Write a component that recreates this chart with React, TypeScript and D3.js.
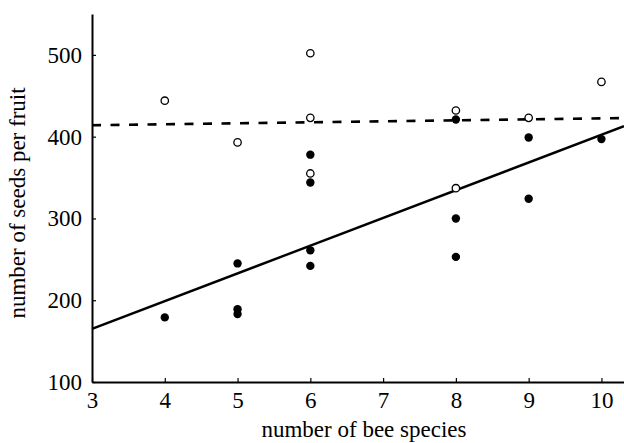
import React, { useRef, useEffect } from 'react';
import * as d3 from 'd3';

// bee species richness vs seeds per fruit
const openX = [4, 5, 6, 6, 6, 8, 8, 9, 10];
const openY = [444, 393, 502, 423, 355, 432, 337, 423, 467];

const filledX = [4, 5, 5, 5, 6, 6, 6, 6, 8, 8, 8, 9, 9, 10];
const filledY = [179, 245, 189, 183, 378, 344, 261, 242, 421, 300, 253, 399, 324, 397];

// fitted lines: [intercept, slope]
const solidFit = [63.3, 33.9];
const dashedFit = [410.4, 1.2];

const xTicks = [3, 4, 5, 6, 7, 8, 9, 10];
const yTicks = [100, 200, 300, 400, 500];

const App = () => {
  const ref = useRef<SVGSVGElement>(null);

  useEffect(() => {
    const svg = d3.select(ref.current);
    svg.selectAll('*').remove();

    const width = 624;
    const height = 443;
    const margin = { top: 14, right: 0, bottom: 61, left: 92 };
    const font = '"Liberation Serif", "Times New Roman", serif';

    const x = d3.scaleLinear()
      .domain([3, 10.31])
      .range([margin.left, width - margin.right]);

    const y = d3.scaleLinear()
      .domain([100, 550])
      .range([height - margin.bottom, margin.top]);

    // axes with inward ticks
    const xAxis = svg.append('g')
      .attr('transform', `translate(0,${y(100)})`)
      .call(d3.axisBottom(x).tickValues(xTicks).tickSize(-4).tickSizeOuter(0).tickPadding(10));
    xAxis.select('.domain').attr('stroke-width', 2);
    xAxis.selectAll('.tick line').attr('stroke-width', 1.2);
    xAxis.selectAll('text')
      .attr('font-family', font)
      .attr('font-size', 23)
      .attr('fill', '#000');

    const yAxis = svg.append('g')
      .attr('transform', `translate(${x(3)},0)`)
      .call(d3.axisLeft(y).tickValues(yTicks).tickSize(-4).tickSizeOuter(0).tickPadding(10));
    yAxis.select('.domain').attr('stroke-width', 2);
    yAxis.selectAll('.tick line').attr('stroke-width', 1.2);
    yAxis.selectAll('text')
      .attr('font-family', font)
      .attr('font-size', 23)
      .attr('fill', '#000');

    // regression lines
    const xs = x.domain();
    const fitLine = (fit: number[]) => d3.line<number>()
      .x(d => x(d))
      .y(d => y(fit[0] + fit[1] * d))(xs);

    svg.append('path')
      .attr('d', fitLine(dashedFit))
      .attr('fill', 'none')
      .attr('stroke', '#000')
      .attr('stroke-width', 2.6)
      .attr('stroke-dasharray', '9,9.5');

    svg.append('path')
      .attr('d', fitLine(solidFit))
      .attr('fill', 'none')
      .attr('stroke', '#000')
      .attr('stroke-width', 2.4);

    // points
    svg.append('g')
      .selectAll('circle')
      .data(filledX.map((d, i) => [d, filledY[i]]))
      .join('circle')
      .attr('cx', d => x(d[0]))
      .attr('cy', d => y(d[1]))
      .attr('r', 4.2)
      .attr('fill', '#000');

    svg.append('g')
      .selectAll('circle')
      .data(openX.map((d, i) => [d, openY[i]]))
      .join('circle')
      .attr('cx', d => x(d[0]))
      .attr('cy', d => y(d[1]))
      .attr('r', 3.7)
      .attr('fill', '#fff')
      .attr('stroke', '#000')
      .attr('stroke-width', 1.3);

    // axis titles
    svg.append('text')
      .attr('x', 364)
      .attr('y', 437)
      .attr('text-anchor', 'middle')
      .attr('font-family', font)
      .attr('font-size', 23)
      .text('number of bee species');

    svg.append('text')
      .attr('transform', `translate(25,203) rotate(-90)`)
      .attr('text-anchor', 'middle')
      .attr('font-family', font)
      .attr('font-size', 23)
      .text('number of seeds per fruit');
  }, []);

  return (
    <svg
      ref={ref}
      width={624}
      height={443}
      style={{ position: 'absolute', left: 0, top: 0, background: '#fff' }}
    />
  );
};

export default App;
